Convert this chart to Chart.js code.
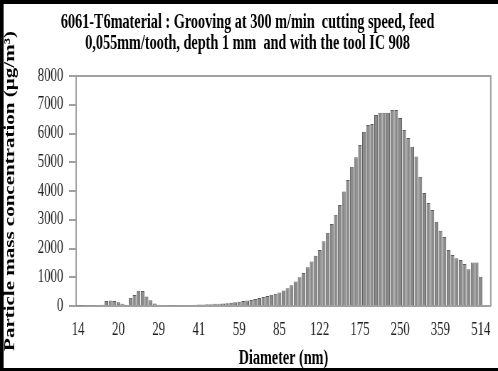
<!DOCTYPE html>
<html>
<head>
<meta charset="utf-8">
<script src="https://cdn.jsdelivr.net/npm/chart.js@4.4.1/dist/chart.umd.min.js"></script>
<style>
    html, body { margin: 0; padding: 0; background: #fff; }
    #chart { display: block; }
</style>
</head>
<body>
<canvas id="chart" width="700" height="371" style="width:498px;height:371px;"></canvas>
<script>
// SMPS channel mid-points (nm), 101 channels + 2 empty slots at the end of the axis
const DIAMETERS = [
    14.1, 14.6, 15.1, 15.7, 16.3, 16.8, 17.5, 18.1, 18.8, 19.5,
    20.2, 20.9, 21.7, 22.5, 23.3, 24.1, 25.0, 25.9, 26.9, 27.9,
    28.9, 30.0, 31.1, 32.2, 33.4, 34.6, 35.9, 37.2, 38.5, 40.0,
    41.4, 42.9, 44.5, 46.1, 47.8, 49.6, 51.4, 53.3, 55.2, 57.3,
    59.4, 61.5, 63.8, 66.1, 68.5, 71.0, 73.7, 76.4, 79.1, 82.0,
    85.1, 88.2, 91.4, 94.7, 98.2, 101.8, 105.5, 109.4, 113.4, 117.6,
    121.9, 126.3, 131.0, 135.8, 140.7, 145.9, 151.2, 156.8, 162.5, 168.5,
    174.7, 181.1, 187.7, 194.6, 201.7, 209.1, 216.7, 224.7, 232.9, 241.4,
    250.3, 259.5, 269.0, 278.8, 289.0, 299.6, 310.6, 322.0, 333.8, 346.0,
    358.7, 371.8, 385.4, 399.5, 414.2, 429.4, 445.1, 461.4, 478.3, 495.8,
    514.0, 532.8, 552.3
];

// Particle mass concentration (µg/m³)
const MASS_CONC = [
    10, 12, 15, 15, 20, 30, 40, 170, 190, 175,
    130, 80, 40, 290, 380, 530, 520, 330, 200, 90,
    40, 25, 20, 20, 20, 25, 25, 30, 35, 40,
    50, 55, 60, 65, 75, 80, 90, 100, 115, 130,
    150, 170, 190, 210, 240, 280, 310, 350, 390, 430,
    470, 540, 620, 720, 850, 1000, 1150, 1350, 1550, 1750,
    1950, 2250, 2550, 2850, 3170, 3510, 3980, 4380, 4840, 5170,
    5600, 6060, 6300, 6330, 6640, 6720, 6720, 6720, 6820, 6820,
    6540, 6120, 5840, 5540, 5200, 4500, 3930, 3580, 3340, 2930,
    2620, 2400, 1950, 1770, 1660, 1600, 1460, 1280, 1510, 1510,
    1020
];

// Tick labels shown every 10 channels
const TICK_LABELS = ['14', '20', '29', '41', '59', '85', '122', '175', '250', '359', '514'];
const TICK_EVERY = 10;

const TITLE_LINES = [
    '6061-T6material : Grooving at 300 m/min  cutting speed, feed',
    '0,055mm/tooth, depth 1 mm  and with the tool IC 908'
];

const SERIF = '"Liberation Serif", "Times New Roman", serif';

// white background, grey plot frame and the black page border
const framePlugin = {
    id: 'frame',
    beforeDraw(chart) {
        const ctx = chart.ctx;
        ctx.save();
        ctx.fillStyle = '#fff';
        ctx.fillRect(0, 0, chart.width, chart.height);
        ctx.restore();
    },
    afterDraw(chart) {
        const ctx = chart.ctx;
        const a = chart.chartArea;
        ctx.save();
        ctx.strokeStyle = '#a0a0a0';
        ctx.lineWidth = 2;
        ctx.beginPath();
        ctx.moveTo(a.left, a.top);
        ctx.lineTo(a.right, a.top);
        ctx.lineTo(a.right, a.bottom);
        ctx.stroke();
        ctx.fillStyle = '#000';
        ctx.fillRect(0, 0, 5, chart.height);
        ctx.fillRect(0, 0, chart.width, 4);
        ctx.fillRect(0, chart.height - 3, chart.width, 3);
        ctx.restore();
    }
};

new Chart(document.getElementById('chart'), {
    type: 'bar',
    data: {
        labels: DIAMETERS,
        datasets: [{
            data: MASS_CONC,
            backgroundColor: '#8a8a8a',
            borderColor: '#5f5f5f',
            borderWidth: { left: 1, right: 1, top: 1, bottom: 0 },
            borderSkipped: 'bottom',
            barPercentage: 0.9,
            categoryPercentage: 1.0
        }]
    },
    options: {
        responsive: false,
        devicePixelRatio: 1,
        animation: false,
        layout: { padding: { left: 0, right: 4, top: 0, bottom: 0 } },
        plugins: {
            legend: { display: false },
            tooltip: { enabled: false },
            title: {
                display: true,
                text: TITLE_LINES,
                color: '#000',
                font: { family: SERIF, size: 20, weight: 'bold', lineHeight: 1.05 },
                padding: { top: 12, bottom: 22 }
            }
        },
        scales: {
            x: {
                grid: { display: false, drawTicks: false },
                border: { display: true, color: '#a0a0a0', width: 2 },
                ticks: {
                    autoSkip: false,
                    maxRotation: 0,
                    minRotation: 0,
                    padding: 13,
                    color: '#222',
                    font: { family: SERIF, size: 18 },
                    callback: function(value, index) {
                        if (index % TICK_EVERY !== 0) return '';
                        return TICK_LABELS[index / TICK_EVERY] || '';
                    }
                },
                title: {
                    display: true,
                    text: 'Diameter (nm)',
                    color: '#000',
                    font: { family: SERIF, size: 20, weight: 'bold', lineHeight: 1.2 },
                    padding: { top: 0, bottom: 0 }
                },
                afterFit: function(scale) { scale.height = 65; }
            },
            y: {
                min: 0,
                max: 8000,
                grid: { drawOnChartArea: false, drawTicks: true, tickLength: 10, color: '#a0a0a0', lineWidth: 2 },
                border: { display: true, color: '#a0a0a0', width: 2 },
                ticks: {
                    stepSize: 1000,
                    padding: 8,
                    color: '#222',
                    font: { family: SERIF, size: 18 },
                    callback: function(value) { return String(value); }
                },
                title: {
                    display: true,
                    text: 'Particle mass concentration (µg/m³)',
                    color: '#000',
                    font: { family: SERIF, size: 21, weight: 'bold', lineHeight: 1.2 },
                    padding: { top: 2, bottom: 0 },
                    align: 'center'
                },
                afterFit: function(scale) { scale.width = 107; }
            }
        }
    },
    plugins: [framePlugin]
});
</script>
</body>
</html>
